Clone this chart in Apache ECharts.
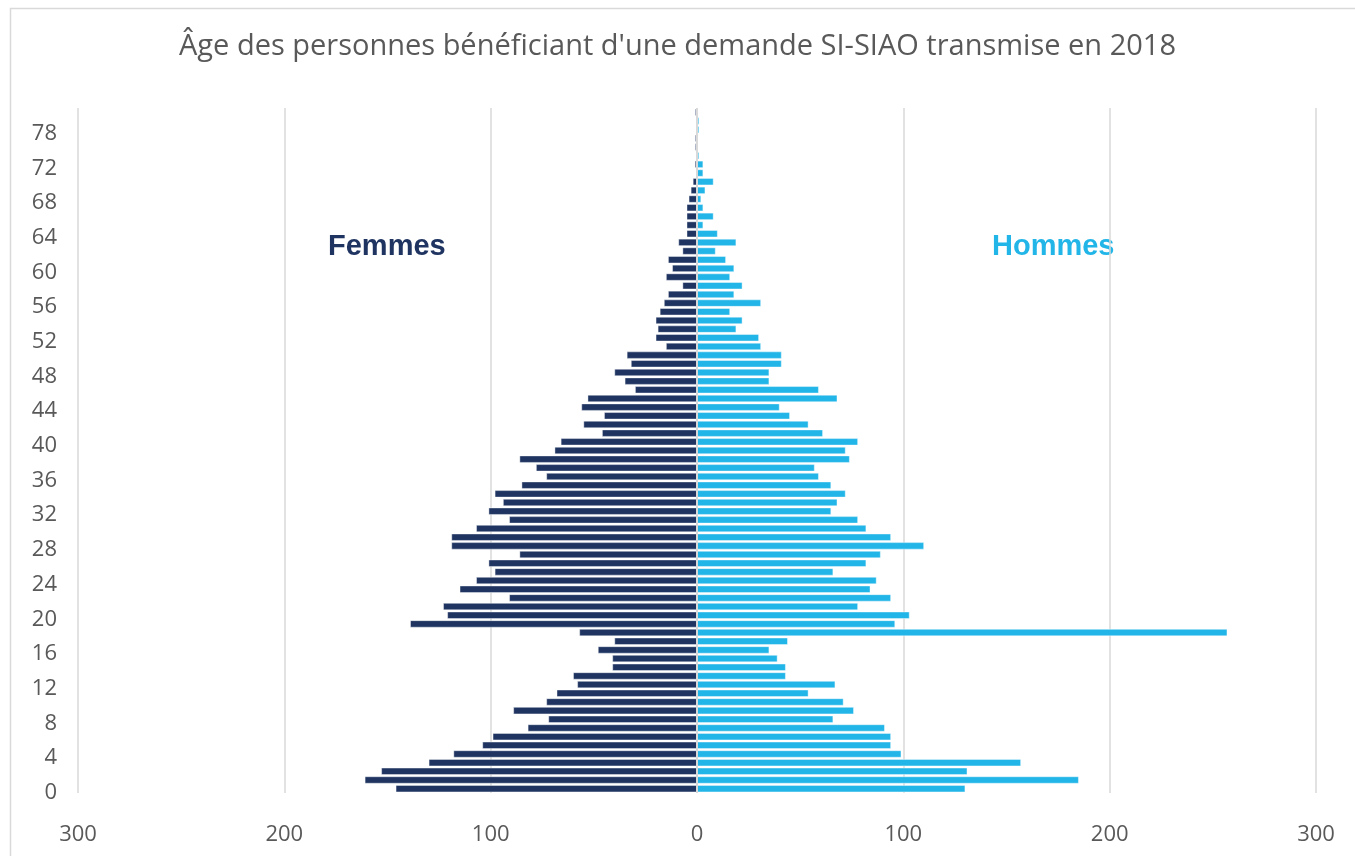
<!DOCTYPE html>
<html>
<head>
<meta charset="utf-8">
<script src="https://cdn.jsdelivr.net/npm/echarts@6/dist/echarts.min.js"></script>
<style>
  html, body { margin: 0; padding: 0; background: #fff; }
  #chart { width: 1355px; height: 856px; }
</style>
</head>
<body>
<div id="chart"></div>
<script>
// âges (axe vertical), de bas en haut
const ages = [];
for (let a = 0; a <= 72; a++) ages.push(String(a));
ages.push("73", "74", "76", "78", "79", "81");

const femmes = [146, 161, 153, 130, 118, 104, 99, 82, 72, 89,
  73, 68, 58, 60, 41, 41, 48, 40, 57, 139,
  121, 123, 91, 115, 107, 98, 101, 86, 119, 119,
  107, 91, 101, 94, 98, 85, 73, 78, 86, 69,
  66, 46, 55, 45, 56, 53, 30, 35, 40, 32,
  34, 15, 20, 19, 20, 18, 16, 14, 7, 15,
  12, 14, 7, 9, 5, 5, 5, 5, 4, 3,
  2, 0, 1, 0, 1, 1, 0, 0, 1];

const hommes = [130, 185, 131, 157, 99, 94, 94, 91, 66, 76,
  71, 54, 67, 43, 43, 39, 35, 44, 257, 96,
  103, 78, 94, 84, 87, 66, 82, 89, 110, 94,
  82, 78, 65, 68, 72, 65, 59, 57, 74, 72,
  78, 61, 54, 45, 40, 68, 59, 35, 35, 41,
  41, 31, 30, 19, 22, 16, 31, 18, 22, 16,
  18, 14, 9, 19, 10, 3, 8, 3, 2, 4,
  8, 3, 3, 1, 0, 0, 1, 1, 0];

const chart = echarts.init(document.getElementById("chart"));

chart.setOption({
  animation: false,
  title: {
    text: "Âge des personnes bénéficiant d'une demande SI-SIAO transmise en 2018",
    left: "center",
    top: 27,
    textStyle: { fontFamily: "Open Sans", fontWeight: "normal", fontSize: 29, color: "#595959" },
  },
  graphic: [
    {
      type: "rect",
      shape: { x: 10.5, y: 8.5, width: 1400, height: 900 },
      style: { fill: "none", stroke: "#d9d9d9", lineWidth: 1.5 },
      silent: true,
    },
    {
      type: "text",
      left: 328,
      top: 232,
      style: { text: "Femmes", fontFamily: "Liberation Sans", fontWeight: "bold", fontSize: 29, fill: "#1f3461" },
    },
    {
      type: "text",
      left: 992,
      top: 232,
      style: { text: "Hommes", fontFamily: "Liberation Sans", fontWeight: "bold", fontSize: 29, fill: "#22b5e8" },
    },
  ],
  grid: { left: 78, right: 39, top: 108, bottom: 63, containLabel: false },
  xAxis: {
    type: "value",
    min: -300,
    max: 300,
    interval: 100,
    axisLine: { show: false },
    axisTick: { show: false },
    axisLabel: {
      margin: 31,
      color: "#595959",
      fontFamily: "Open Sans",
      fontSize: 22,
      formatter: (v) => Math.abs(v),
    },
    splitLine: { lineStyle: { color: "#d9d9d9", width: 1.5 } },
  },
  yAxis: {
    type: "category",
    data: ages,
    axisLine: { show: false },
    axisTick: { show: false },
    axisLabel: {
      interval: 3,
      margin: 21,
      verticalAlign: "top",
      lineHeight: 8,
      color: "#595959",
      fontFamily: "Open Sans",
      fontSize: 22,
    },
    splitLine: { show: false },
  },
  series: [
    {
      name: "Femmes",
      type: "bar",
      stack: "total",
      barCategoryGap: "18%",
      data: femmes.map((v) => -v),
      itemStyle: { color: "#1f3461", borderColor: "rgba(255,255,255,0.7)", borderWidth: 0.6 },
      markLine: {
        silent: true,
        symbol: "none",
        label: { show: false },
        lineStyle: { color: "#d9d9d9", width: 2, type: "solid" },
        data: [{ xAxis: 0 }],
        z: 10,
      },
    },
    {
      name: "Hommes",
      type: "bar",
      stack: "total",
      barCategoryGap: "18%",
      data: hommes,
      itemStyle: { color: "#22b5e8", borderColor: "rgba(255,255,255,0.7)", borderWidth: 0.6 },
    },
  ],
});
</script>
</body>
</html>
